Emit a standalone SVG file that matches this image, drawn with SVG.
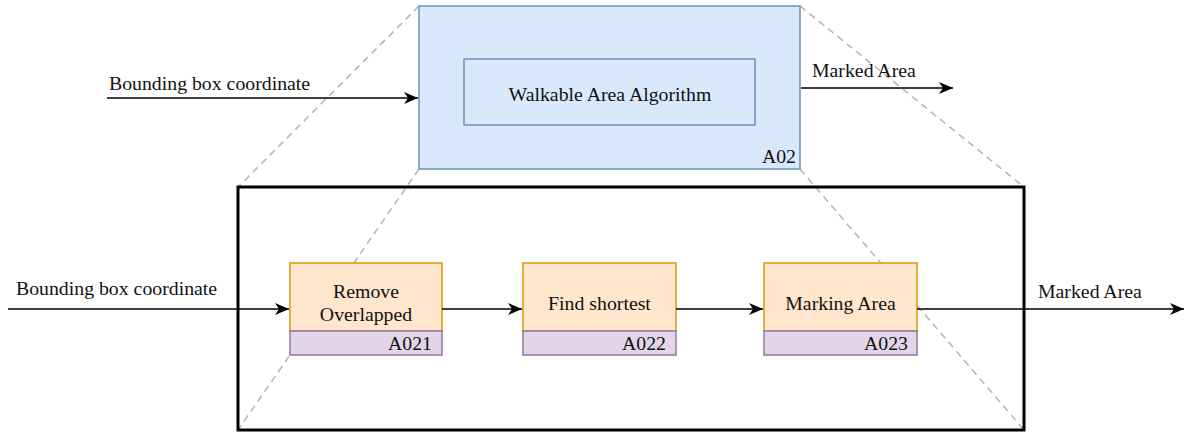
<svg xmlns="http://www.w3.org/2000/svg" width="1186" height="435" viewBox="0 0 1186 435">
<style>
.t{font-family:"Liberation Serif","Times New Roman",serif;font-size:19.8px;fill:#111}
.m{text-anchor:middle}
.e{text-anchor:end}
.arr{fill:none;stroke:#000;stroke-width:1.7}
.dash{fill:none;stroke:#b3b3b3;stroke-width:1.5;stroke-dasharray:7 5}
.org{fill:#ffe6cc;stroke:#d79b00;stroke-width:1.5}
.pur{fill:#e1d5e7;stroke:#9673a6;stroke-width:1.5}
</style>
<defs>
<marker id="ah" markerUnits="userSpaceOnUse" markerWidth="16" markerHeight="14" refX="14" refY="7" orient="auto">
<path d="M0,1 L14,7 L0,13 L4,7 Z" fill="#000"/>
</marker>
</defs>
<rect width="1186" height="435" fill="#fff"/>
<g id="zoom-lines">
<line class="dash" x1="419" y1="6" x2="238" y2="187"/>
<line class="dash" x1="419" y1="169" x2="238" y2="430"/>
<line class="dash" x1="800" y1="6" x2="1024" y2="187"/>
<line class="dash" x1="800" y1="169" x2="1024" y2="430"/>
</g>
<g id="A02">
<rect x="419" y="6" width="381" height="163" fill="#dae8fc" stroke="#6c8ebf" stroke-width="1.5"/>
<rect x="464" y="59" width="291" height="66" fill="#dae8fc" stroke="#6c8ebf" stroke-width="1.5"/>
<text class="t m" x="610" y="101">Walkable Area Algorithm</text>
<text class="t e" x="796" y="163">A02</text>
</g>
<g id="frame">
<rect x="238" y="187" width="786" height="243" fill="none" stroke="#000" stroke-width="3"/>
</g>
<g id="A021">
<rect class="org" x="290" y="263" width="152" height="68"/>
<rect class="pur" x="290" y="331" width="152" height="24"/>
<text class="t m" x="366" y="298">Remove</text>
<text class="t m" x="366" y="321">Overlapped</text>
<text class="t e" x="432" y="350">A021</text>
</g>
<g id="A022">
<rect class="org" x="523" y="263" width="153" height="68"/>
<rect class="pur" x="523" y="331" width="153" height="24"/>
<text class="t m" x="599.5" y="310">Find shortest</text>
<text class="t e" x="666" y="350">A022</text>
</g>
<g id="A023">
<rect class="org" x="764" y="263" width="153" height="68"/>
<rect class="pur" x="764" y="331" width="153" height="24"/>
<text class="t m" x="840.5" y="310">Marking Area</text>
<text class="t e" x="908" y="350">A023</text>
</g>
<g id="connectors">
<line class="arr" x1="107" y1="98" x2="418" y2="98" marker-end="url(#ah)"/>
<line class="arr" x1="801" y1="88" x2="953" y2="88" marker-end="url(#ah)"/>
<line class="arr" x1="8" y1="309" x2="289" y2="309" marker-end="url(#ah)"/>
<line class="arr" x1="442" y1="309" x2="522" y2="309" marker-end="url(#ah)"/>
<line class="arr" x1="676" y1="309" x2="763" y2="309" marker-end="url(#ah)"/>
<line class="arr" x1="917" y1="309" x2="1184" y2="309" marker-end="url(#ah)"/>
</g>
<g id="labels">
<text class="t" x="109" y="90">Bounding box coordinate</text>
<text class="t" x="812" y="77">Marked Area</text>
<text class="t" x="16" y="295">Bounding box coordinate</text>
<text class="t" x="1038" y="298">Marked Area</text>
</g>
</svg>
